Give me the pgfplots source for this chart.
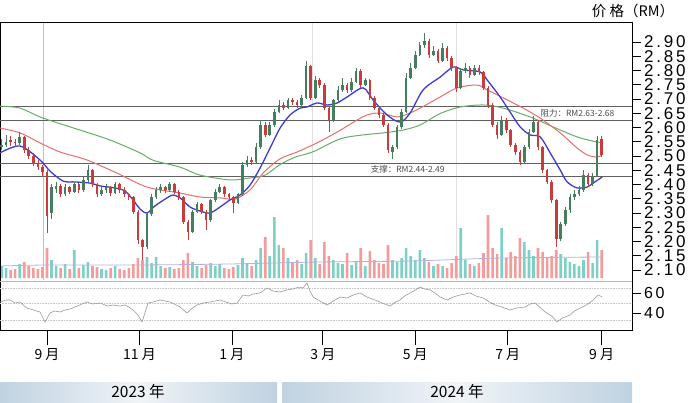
\documentclass[border=0pt]{standalone}
\usepackage{fontspec}
\setmainfont{Liberation Sans}
\newfontfamily\cjk{Noto Sans CJK SC}
\newfontfamily\lab{Liberation Sans}[LetterSpace=16]
\usepackage{pgfplots}
\usepackage{pgfplotstable}
\pgfplotsset{compat=1.18}
\definecolor{upc}{RGB}{70,125,95}
\definecolor{dnc}{RGB}{200,60,60}
\definecolor{maB}{RGB}{60,60,205}
\definecolor{maR}{RGB}{230,110,110}
\definecolor{maG}{RGB}{105,172,105}
\definecolor{volpink}{RGB}{244,155,155}
\definecolor{volteal}{RGB}{125,208,198}
\definecolor{volavg}{RGB}{185,175,222}
\definecolor{band}{RGB}{192,210,225}
\definecolor{bandmid}{RGB}{240,244,247}

% x = days from 1 Sep 2023
\pgfplotstableread{
x o h l c v
-30 2.53 2.56 2.52 2.54 12
-27 2.54 2.575 2.53 2.55 10
-18 2.545 2.585 2.54 2.565 14
3 2.30 2.40 2.28 2.39 18
6 2.385 2.41 2.37 2.395 12
12 2.365 2.40 2.36 2.39 14
18 2.375 2.41 2.37 2.40 28
24 2.38 2.425 2.375 2.415 13
27 2.415 2.47 2.41 2.45 16
36 2.365 2.39 2.36 2.38 9
39 2.38 2.40 2.37 2.39 8
45 2.37 2.41 2.365 2.40 12
66 2.18 2.30 2.175 2.295 21
69 2.295 2.365 2.29 2.355 15
72 2.355 2.39 2.35 2.38 21
75 2.38 2.40 2.37 2.39 12
81 2.38 2.41 2.375 2.40 11
96 2.235 2.31 2.23 2.305 16
99 2.305 2.34 2.30 2.33 12
108 2.275 2.35 2.27 2.345 15
111 2.345 2.385 2.34 2.375 12
114 2.375 2.40 2.37 2.39 14
126 2.335 2.37 2.33 2.365 13
129 2.365 2.48 2.36 2.47 20
132 2.47 2.50 2.46 2.485 15
138 2.48 2.545 2.475 2.53 18
141 2.53 2.625 2.525 2.61 30
147 2.575 2.62 2.57 2.61 22
150 2.61 2.665 2.60 2.655 61
153 2.655 2.695 2.65 2.68 33
159 2.67 2.705 2.665 2.695 20
168 2.68 2.715 2.675 2.705 14
171 2.705 2.835 2.70 2.815 25
177 2.705 2.78 2.70 2.765 20
189 2.625 2.70 2.62 2.695 18
192 2.695 2.745 2.69 2.73 15
195 2.73 2.775 2.725 2.75 14
201 2.73 2.775 2.725 2.76 13
204 2.76 2.81 2.755 2.80 16
210 2.75 2.775 2.745 2.765 12
228 2.515 2.54 2.49 2.53 18
231 2.53 2.61 2.525 2.60 16
234 2.60 2.665 2.595 2.655 20
237 2.655 2.79 2.65 2.775 30
240 2.775 2.825 2.77 2.81 22
243 2.81 2.87 2.805 2.855 18
246 2.855 2.90 2.85 2.89 28
249 2.89 2.93 2.88 2.905 20
255 2.855 2.885 2.85 2.87 12
261 2.835 2.895 2.83 2.88 12
273 2.74 2.81 2.735 2.80 50
276 2.80 2.825 2.79 2.81 18
282 2.785 2.82 2.78 2.81 12
300 2.575 2.64 2.57 2.625 50
315 2.48 2.54 2.475 2.53 36
318 2.53 2.595 2.525 2.585 28
321 2.585 2.64 2.58 2.62 22
339 2.21 2.27 2.20 2.26 24
342 2.26 2.32 2.255 2.31 20
345 2.31 2.365 2.30 2.355 16
348 2.355 2.38 2.345 2.365 14
351 2.365 2.395 2.36 2.38 12
354 2.38 2.45 2.375 2.435 18
360 2.40 2.44 2.395 2.43 15
363 2.43 2.57 2.425 2.555 38
}\uptab

\pgfplotstableread{
x o h l c v
-24 2.555 2.57 2.535 2.55 8
-21 2.55 2.56 2.53 2.545 9
-15 2.565 2.57 2.51 2.52 16
-12 2.52 2.53 2.49 2.50 12
-9 2.50 2.51 2.465 2.475 10
-6 2.475 2.485 2.45 2.46 9
-3 2.46 2.47 2.43 2.445 11
0 2.445 2.45 2.23 2.29 30
9 2.395 2.40 2.355 2.365 10
15 2.39 2.395 2.365 2.375 9
21 2.40 2.405 2.37 2.38 10
30 2.45 2.455 2.39 2.40 12
33 2.40 2.405 2.355 2.365 11
42 2.39 2.395 2.36 2.37 10
48 2.40 2.405 2.37 2.38 9
51 2.38 2.39 2.355 2.365 8
54 2.365 2.37 2.345 2.355 10
57 2.355 2.36 2.295 2.305 14
60 2.305 2.31 2.19 2.205 20
63 2.205 2.21 2.135 2.18 18
78 2.39 2.395 2.37 2.38 10
84 2.40 2.405 2.365 2.375 9
87 2.375 2.38 2.345 2.355 10
90 2.355 2.36 2.26 2.27 18
93 2.27 2.275 2.205 2.235 25
102 2.33 2.335 2.295 2.305 10
105 2.305 2.31 2.24 2.275 13
117 2.39 2.395 2.355 2.365 10
120 2.365 2.37 2.345 2.355 9
123 2.355 2.36 2.30 2.335 11
135 2.485 2.495 2.47 2.48 12
144 2.61 2.62 2.565 2.575 41
156 2.68 2.69 2.66 2.67 30
162 2.695 2.705 2.68 2.69 16
165 2.69 2.695 2.67 2.68 18
174 2.815 2.82 2.695 2.705 38
180 2.765 2.775 2.74 2.75 14
183 2.75 2.755 2.66 2.67 36
186 2.67 2.675 2.585 2.625 22
198 2.75 2.755 2.72 2.73 25
207 2.80 2.805 2.74 2.75 30
213 2.765 2.77 2.695 2.705 27
216 2.705 2.71 2.66 2.67 18
219 2.67 2.675 2.635 2.645 15
222 2.645 2.65 2.60 2.61 14
225 2.61 2.615 2.51 2.52 33
252 2.905 2.91 2.845 2.855 16
258 2.87 2.875 2.825 2.835 14
264 2.88 2.885 2.835 2.845 10
267 2.845 2.85 2.80 2.81 15
270 2.81 2.815 2.725 2.74 22
279 2.81 2.815 2.775 2.785 14
285 2.81 2.82 2.785 2.795 15
288 2.795 2.80 2.73 2.74 25
291 2.74 2.745 2.67 2.68 63
294 2.68 2.685 2.60 2.61 30
297 2.61 2.62 2.56 2.575 24
303 2.625 2.635 2.58 2.59 20
306 2.59 2.595 2.53 2.54 26
309 2.54 2.545 2.505 2.515 22
312 2.515 2.52 2.47 2.48 40
324 2.62 2.625 2.52 2.53 30
327 2.53 2.535 2.44 2.45 26
330 2.45 2.455 2.40 2.41 20
333 2.41 2.415 2.335 2.345 22
336 2.345 2.35 2.18 2.21 28
357 2.435 2.44 2.39 2.40 26
366 2.56 2.57 2.495 2.505 28
}\dntab

\begin{document}
\begin{tikzpicture}
\path[use as bounding box] (0pt,0pt) rectangle (690pt,402pt);

% ---------- volume axis (also carries the month ticks) ----------
\begin{axis}[at={(0pt,72pt)}, anchor=south west, scale only axis,
  width=632pt, height=308pt,
  xmin=-31, xmax=386, ymin=-52, ymax=256,
  axis line style={draw=none}, ytick=\empty,
  xtick={0,61,122,182,243,304,366},
  xticklabels={9 月,11 月,1 月,3 月,5 月,7 月,9 月},
  xtick pos=bottom, tick align=outside, major tick length=15pt,
  xtick style={black, line width=0.7pt},
  xticklabel style={font=\cjk\fontsize{14}{15}\selectfont, inner sep=3pt},
  clip=true]
\draw[red!35, line width=0.6pt] (axis cs:-2.6,256) -- (axis cs:-2.6,-2);
\draw[gray!25, line width=0.6pt] (axis cs:175,256) -- (axis cs:175,-2);
\draw[gray!25, line width=0.6pt] (axis cs:270,256) -- (axis cs:270,-2);
\addplot[ybar, bar width=2.6pt, fill=volpink, draw=none] table[x=x,y=v] \dntab;
\addplot[ybar, bar width=2.6pt, fill=volteal, draw=none] table[x=x,y=v] \uptab;
\addplot[volavg, line width=0.8pt, smooth, mark=none] coordinates {
(-31,12) (0,13) (60,13) (120,14) (180,16) (240,17) (300,20) (366,21)};
\end{axis}

% ---------- price axis ----------
\begin{axis}[at={(0pt,72pt)}, anchor=south west, scale only axis,
  width=632pt, height=308pt,
  xmin=-31, xmax=386, ymin=1.8894, ymax=2.9702,
  axis line style={black, line width=0.8pt},
  xtick=\empty,
  ytick={2.10,2.15,2.20,2.25,2.30,2.35,2.40,2.45,2.50,2.55,2.60,2.65,2.70,2.75,2.80,2.85,2.90},
  yticklabels={2.10,2.15,2.20,2.25,2.30,2.35,2.40,2.45,2.50,2.55,2.60,2.65,2.70,2.75,2.80,2.85,2.90},
  ytick pos=right, yticklabel pos=right, tick align=outside, major tick length=9pt,
  ytick style={black, line width=0.7pt},
  yticklabel style={font=\lab\fontsize{17}{17}\selectfont, inner xsep=3pt, inner ysep=0pt, anchor=west},
  clip=true]
% support / resistance
\draw[gray!75!black, line width=0.7pt] (axis cs:-31,2.675) -- (axis cs:386,2.675);
\draw[gray!75!black, line width=0.7pt] (axis cs:-31,2.626) -- (axis cs:386,2.626);
\draw[gray!75!black, line width=0.7pt] (axis cs:-31,2.475) -- (axis cs:386,2.475);
\draw[gray!75!black, line width=0.7pt] (axis cs:-31,2.430) -- (axis cs:386,2.430);
\node[font=\cjk\fontsize{8.5}{9}\selectfont, text=black!70] at (axis cs:350,2.651) {阻力：RM2.63-2.68};
\node[font=\cjk\fontsize{8.5}{9}\selectfont, text=black!70] at (axis cs:238,2.4525) {支撑：RM2.44-2.49};
% moving averages
\addplot[maG, line width=1pt, smooth, mark=none] coordinates {
(-31,2.675) (-17.8,2.668) (-2.6,2.633) (21.8,2.591) (41.6,2.556) (61.4,2.511) (70,2.485)
(87.8,2.461) (101,2.433) (120.8,2.416) (134,2.423) (143.9,2.433) (153.8,2.470) (163.7,2.496)
(175.6,2.515) (193.4,2.560) (208.6,2.574) (221.8,2.581) (235,2.591) (246.2,2.609) (259.4,2.649)
(272.6,2.672) (287.8,2.679) (301,2.668) (318.8,2.637) (334,2.602) (349.8,2.567) (363,2.549) (366.3,2.549)};
\addplot[maR, line width=1pt, smooth, mark=none] coordinates {
(-31,2.598) (-17.8,2.581) (-4.6,2.546) (8.6,2.514) (26.4,2.486) (46.2,2.440) (66,2.391)
(87.8,2.370) (101,2.356) (114.2,2.353) (124.1,2.349) (134,2.381) (142.6,2.440) (153.8,2.490)
(165,2.514) (178.2,2.546) (191.4,2.584) (204.6,2.626) (211.2,2.644) (219.8,2.651) (231,2.637)
(239.6,2.651) (246.2,2.668) (259.4,2.707) (270.6,2.739) (283.8,2.749) (290.4,2.732) (301,2.704)
(314.2,2.668) (325.4,2.633) (338.6,2.581) (349.8,2.528) (356.4,2.504) (363,2.496) (366.3,2.504)};
\addplot[maB, line width=1.3pt, smooth, mark=none] coordinates {
(-31,2.511) (-17.8,2.535) (-4.6,2.486) (2,2.447) (10.6,2.412) (18.5,2.409) (28.4,2.405)
(35,2.395) (44.9,2.388) (51.5,2.377) (56.8,2.346) (61.4,2.314) (66,2.300) (71.3,2.325)
(79.2,2.353) (83.2,2.363) (87.8,2.353) (94.4,2.321) (101,2.307) (107.6,2.300) (114.2,2.321)
(120.8,2.346) (127.4,2.363) (134,2.398) (140.6,2.458) (147.2,2.528) (153.8,2.598) (160.4,2.644)
(167,2.668) (171.6,2.672) (178.2,2.686) (184.8,2.679) (191.4,2.686) (198,2.707) (208.6,2.739)
(215.2,2.696) (224.4,2.644) (233,2.619) (239.6,2.651) (248.2,2.732) (259.4,2.777) (268,2.812)
(274.6,2.802) (285.8,2.795) (290.4,2.767) (299,2.707) (305.6,2.654) (312.2,2.602) (318.8,2.574)
(325.4,2.567) (332,2.511) (338.6,2.451) (343.2,2.409) (349.8,2.388) (356.4,2.391) (360.4,2.405) (366.3,2.426)};
% candles: wicks
\addplot[draw=none, mark=none, error bars/.cd, y dir=plus, y explicit, error mark=none,
  error bar style={draw=upc, line width=0.7pt}]
  table[x=x, y=l, y error expr=\thisrow{h}-\thisrow{l}] \uptab;
\addplot[draw=none, mark=none, error bars/.cd, y dir=plus, y explicit, error mark=none,
  error bar style={draw=dnc, line width=0.7pt}]
  table[x=x, y=l, y error expr=\thisrow{h}-\thisrow{l}] \dntab;
% candles: bodies
\addplot[draw=none, mark=none, error bars/.cd, y dir=plus, y explicit, error mark=none,
  error bar style={draw=upc, line width=2.6pt}]
  table[x=x, y=o, y error expr=\thisrow{c}-\thisrow{o}] \uptab;
\addplot[draw=none, mark=none, error bars/.cd, y dir=plus, y explicit, error mark=none,
  error bar style={draw=dnc, line width=2.6pt}]
  table[x=x, y=c, y error expr=\thisrow{o}-\thisrow{c}] \dntab;
\end{axis}

% ---------- RSI axis ----------
\begin{axis}[at={(0pt,72pt)}, anchor=south west, scale only axis,
  width=632pt, height=49pt,
  xmin=-31, xmax=386, ymin=23, ymax=72,
  axis line style={draw=none}, xtick=\empty,
  ytick={40,60}, yticklabels={40,60},
  ytick pos=right, yticklabel pos=right, tick align=outside, major tick length=9pt,
  ytick style={black, line width=0.7pt},
  yticklabel style={font=\lab\fontsize{16}{16}\selectfont, inner xsep=3pt, inner ysep=0pt, anchor=west},
  clip=true]
\addplot[gray!55, line width=0.7pt, mark=none] coordinates {(-31,71.5) (386,71.5)};
\addplot[gray!45, densely dotted, line width=0.6pt, mark=none] coordinates {(-31,65) (386,65)};
\addplot[gray!45, densely dotted, line width=0.6pt, mark=none] coordinates {(-31,50) (386,50)};
\addplot[gray!45, densely dotted, line width=0.6pt, mark=none] coordinates {(-31,33) (386,33)};
\addplot[gray!80, line width=0.6pt, mark=none] coordinates {
(-31,51) (-27,53) (-24.4,53) (-21,50) (-17.8,51) (-15,47) (-13.2,45) (-9,43) (-4.6,41) (-1.3,31)
(2,40) (5,42) (8.6,41) (12,43) (15.2,44) (20,47) (26.4,51) (30,49) (35,50) (40,47) (43.6,48)
(48,47) (51.5,48) (54,46) (56.8,43) (60,38) (62.7,31) (66.7,50) (70,51) (74.6,53) (78,52)
(81.2,51) (84,49) (87.8,46) (92.4,40) (96,45) (99,48) (103,50) (107.6,51) (111,52) (114.2,53)
(118,51) (122,49) (125.4,50) (129.4,58) (133,57) (136,59) (140.6,60) (145.2,65) (149,62)
(153.8,61) (158,63) (162.4,64) (166,66) (169,65) (171.6,70) (173.5,62) (175.6,56) (180,52)
(184.8,48) (189,52) (193.4,56) (198,55) (202,58) (206.6,60) (211,56) (216.5,53) (221,50)
(226.4,47) (230,51) (233,53) (236,57) (239.6,60) (243,63) (246.2,66) (249,64) (252.8,63)
(256,60) (259.4,56) (264,53) (268,56) (272.6,58) (276,59) (279.2,60) (283,57) (287.8,55)
(292,51) (295.7,48) (300,46) (305.6,43) (310,45) (315.5,46) (319,49) (322.1,50) (325,46)
(328.7,41) (333,37) (336.6,31) (340,35) (345.2,38) (348,42) (351.8,45) (356,48) (360.4,53)
(363.7,58) (366.3,56)};
\end{axis}

% ---------- title and year bands ----------
\node[font=\cjk\fontsize{14.5}{15}\selectfont, anchor=center] at (633pt,391pt) {价 格（RM）};
\shade[left color=band, right color=band, middle color=bandmid] (0pt,0pt) rectangle (277pt,20pt);
\shade[left color=band, right color=band, middle color=bandmid] (282pt,0pt) rectangle (632pt,20pt);
\node[font=\cjk\fontsize{15.5}{16}\selectfont] at (138pt,10pt) {2023 年};
\node[font=\cjk\fontsize{15.5}{16}\selectfont] at (457pt,10pt) {2024 年};
\end{tikzpicture}
\end{document}
